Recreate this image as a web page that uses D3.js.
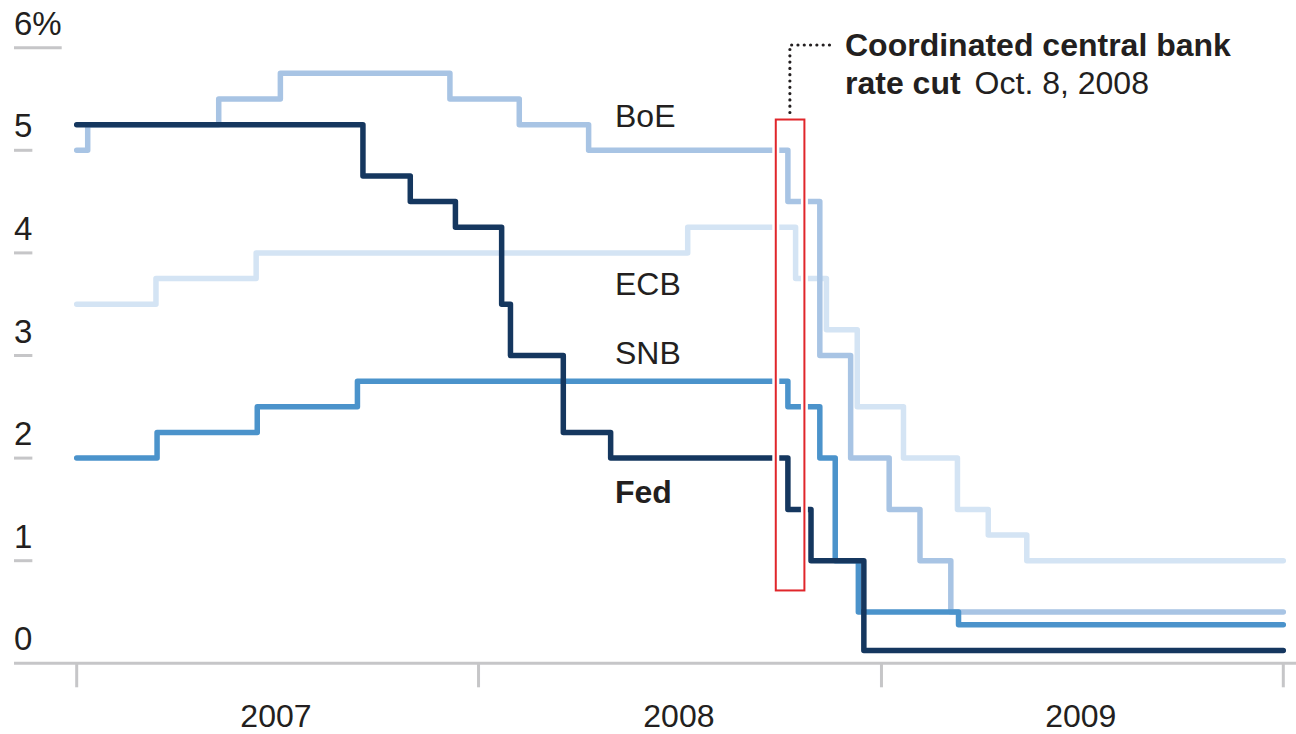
<html>
<head>
<style>
  body { margin: 0; background: #fff; font-family: "Liberation Sans", Arial, Helvetica, sans-serif; }
  svg { display: block; }
  text { fill: #231f20; }
</style>
<script src="https://d3js.org/d3.v7.min.js"></script>
</head>
<body>
<svg id="chart"></svg>
<script>
  // policy rates, step changes: [effective date, rate %]
  let fedRates = [
    ["2007-01-01", 5.25], ["2007-09-18", 4.75], ["2007-10-31", 4.5], ["2007-12-11", 4.25],
    ["2008-01-22", 3.5], ["2008-01-30", 3.0], ["2008-03-18", 2.25], ["2008-04-30", 2.0],
    ["2008-10-08", 1.5], ["2008-10-29", 1.0], ["2008-12-16", 0.125]
  ];
  let boeRates = [
    ["2007-01-01", 5.0], ["2007-01-11", 5.25], ["2007-05-10", 5.5], ["2007-07-05", 5.75],
    ["2007-12-06", 5.5], ["2008-02-07", 5.25], ["2008-04-10", 5.0], ["2008-10-08", 4.5],
    ["2008-11-06", 3.0], ["2008-12-04", 2.0], ["2009-01-08", 1.5], ["2009-02-05", 1.0],
    ["2009-03-05", 0.5]
  ];
  let ecbRates = [
    ["2007-01-01", 3.5], ["2007-03-14", 3.75], ["2007-06-13", 4.0], ["2008-07-09", 4.25],
    ["2008-10-15", 3.75], ["2008-11-12", 3.25], ["2008-12-10", 2.5], ["2009-01-21", 2.0],
    ["2009-03-11", 1.5], ["2009-04-08", 1.25], ["2009-05-13", 1.0]
  ];
  let snbRates = [
    ["2007-01-01", 2.0], ["2007-03-15", 2.25], ["2007-06-14", 2.5], ["2007-09-13", 2.75],
    ["2008-10-08", 2.5], ["2008-11-06", 2.0], ["2008-11-20", 1.0], ["2008-12-11", 0.5],
    ["2009-03-12", 0.375]
  ];

  let seriesNames = ["ECB", "BoE", "SNB", "Fed"];
  let seriesColors = ["#d4e4f4", "#a8c4e4", "#4b93cb", "#15375f"];
  let seriesLabelY = [3.71, 5.34, 3.03, 1.68];
  let yTicks = [1, 2, 3, 4, 5, 6];
  let yearTicks = ["2007", "2008", "2009"];

  let cutStart = "2008-09-27", cutEnd = "2008-10-23", cutDate = "2008-10-08";

  let width = 1296, height = 734;
  let svg = d3.select("#chart").attr("width", width).attr("height", height);
  let parse = d3.utcParse("%Y-%m-%d");

  let x = d3.scaleUtc()
    .domain([parse("2007-01-01"), parse("2010-01-01")])
    .range([76.7, 1283.3]);
  let y = d3.scaleLinear()
    .domain([0, 6])
    .range([663.3, 47.7]);

  // y axis labels with short underline
  let yg = svg.append("g");
  yTicks.forEach(t => {
    let label = yg.append("text")
      .attr("x", 14)
      .attr("y", y(t) - 13)
      .attr("font-size", 33)
      .text(t === 6 ? "6%" : t);
    let w = label.node().getComputedTextLength();
    yg.append("line")
      .attr("x1", 14).attr("x2", 14 + w)
      .attr("y1", y(t)).attr("y2", y(t))
      .attr("stroke", "#c6c6c8").attr("stroke-width", 3);
  });
  yg.append("text").attr("x", 14).attr("y", y(0) - 13).attr("font-size", 33).text("0");

  // x axis
  svg.append("line")
    .attr("x1", 14).attr("x2", width)
    .attr("y1", y(0)).attr("y2", y(0))
    .attr("stroke", "#c6c6c8").attr("stroke-width", 3);
  let boundaries = yearTicks.concat(["2010"]).map(yr => parse(yr + "-01-01"));
  svg.selectAll(".tick")
    .data(boundaries)
    .enter().append("line")
    .attr("x1", d => x(d)).attr("x2", d => x(d))
    .attr("y1", y(0)).attr("y2", y(0) + 24)
    .attr("stroke", "#c6c6c8").attr("stroke-width", 3);
  svg.selectAll(".year")
    .data(yearTicks)
    .enter().append("text")
    .attr("x", d => x(parse(d + "-07-01")))
    .attr("y", 727)
    .attr("text-anchor", "middle")
    .attr("font-size", 32)
    .text(d => d);

  // step lines
  let line = d3.line()
    .x(d => x(d[0]))
    .y(d => y(d[1]))
    .curve(d3.curveStepAfter);

  let allSeries = [ecbRates, boeRates, snbRates, fedRates];
  allSeries.forEach((s, i) => {
    let pts = s.map(d => [parse(d[0]), d[1]]);
    pts.push([parse("2010-01-01"), s[s.length - 1][1]]);
    svg.append("path")
      .attr("d", line(pts))
      .attr("fill", "none")
      .attr("stroke", seriesColors[i])
      .attr("stroke-width", 5.5)
      .attr("stroke-linejoin", "round")
      .attr("stroke-linecap", "round");
  });

  // series labels
  seriesNames.forEach((n, i) => {
    svg.append("text")
      .attr("x", 615)
      .attr("y", y(seriesLabelY[i]) + 12)
      .attr("font-size", 32)
      .attr("font-weight", n === "Fed" ? "bold" : "normal")
      .text(n);
  });

  // highlight box for the coordinated cut
  let bx0 = x(parse(cutStart)), bx1 = x(parse(cutEnd));
  let by0 = y(5.3), by1 = y(0.71);
  svg.append("rect")
    .attr("x", bx0).attr("y", by0)
    .attr("width", bx1 - bx0).attr("height", by1 - by0)
    .attr("fill", "none").attr("stroke", "#fff").attr("stroke-width", 7);
  svg.append("rect")
    .attr("x", bx0).attr("y", by0)
    .attr("width", bx1 - bx0).attr("height", by1 - by0)
    .attr("fill", "none").attr("stroke", "#e0262b").attr("stroke-width", 2);

  // dotted leader
  let cx = x(parse(cutDate)) + 2;
  svg.append("path")
    .attr("d", `M${cx},${by0 - 7}V45H834`)
    .attr("fill", "none")
    .attr("stroke", "#231f20")
    .attr("stroke-width", 3.2)
    .attr("stroke-linecap", "round")
    .attr("stroke-dasharray", "0 6.3");

  let note = svg.append("text").attr("x", 845).attr("font-size", 32);
  note.append("tspan").attr("x", 845).attr("y", 56).attr("font-weight", "bold").text("Coordinated central bank");
  note.append("tspan").attr("x", 845).attr("y", 94).attr("font-weight", "bold").text("rate cut");
  note.append("tspan").attr("dx", 14).attr("y", 94).text("Oct. 8, 2008");
</script>
</body>
</html>
